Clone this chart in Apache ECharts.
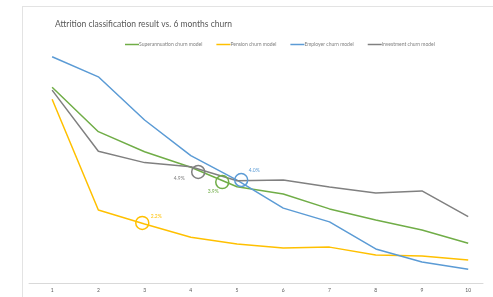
<!DOCTYPE html>
<html>
<head>
<meta charset="utf-8">
<script src="https://cdn.jsdelivr.net/npm/echarts@6/dist/echarts.min.js"></script>
<style>
  html, body { margin: 0; padding: 0; background: #fff; }
  #frame { position: absolute; left: 22px; top: 6px; width: 490px; height: 300px; border: 1px solid #e3e3e3; }
  #main { position: absolute; left: 0; top: 0; width: 493px; height: 297px; }
</style>
</head>
<body>
<div id="frame"></div>
<div id="main"></div>
<script>
// months after classification
var categories = [1, 2, 3, 4, 5, 6, 7, 8, 9, 10];

// churn rate (%)
var superannuation = [7.53, 5.82, 5.05, 4.45, 3.70, 3.42, 2.85, 2.42, 2.04, 1.53];
var pension        = [7.07, 2.81, 2.27, 1.76, 1.50, 1.35, 1.38, 1.08, 1.04, 0.88];
var employer       = [8.70, 7.93, 6.27, 4.90, 3.96, 2.88, 2.35, 1.31, 0.81, 0.53];
var investment     = [7.42, 5.07, 4.63, 4.47, 3.93, 3.96, 3.69, 3.46, 3.54, 2.55];

// highlighted points: [x, y, label]
var superNote  = [4.68, 3.88, '3.9%'];
var pensionNote = [2.95, 2.31, '2.2%'];
var employerNote = [5.09, 3.96, '4.0%'];
var investNote = [4.16, 4.27, '4.9%'];

function pairs(vals) {
  return vals.map(function (v, i) { return [categories[i], v]; });
}

function note(n, color, offset) {
  return {
    symbol: 'circle',
    symbolSize: 13,
    silent: true,
    itemStyle: { color: 'rgba(0,0,0,0)', borderColor: color, borderWidth: 1.5 },
    label: {
      show: true, formatter: n[2], color: color, fontSize: 5,
      fontFamily: 'Lato', position: 'inside', offset: offset
    },
    data: [{ coord: [n[0], n[1]] }]
  };
}

var chart = echarts.init(document.getElementById('main'));
var option = {
  animation: false,
  textStyle: { fontFamily: 'Lato' },
  title: {
    text: 'Attrition classification result vs. 6 months churn',
    left: 50, top: 15,
    textStyle: { fontSize: 8.5, fontWeight: 'normal', color: '#595959', fontFamily: 'Lato' }
  },
  legend: {
    top: 37, left: 120,
    icon: 'rect', itemWidth: 14, itemHeight: 1.5, itemGap: 14,
    textStyle: { fontSize: 5, color: '#7f7f7f', padding: [0, 0, 0, -5] },
    data: ['Superannuation churn model', 'Pension churn model', 'Employer churn model', 'Investment churn model']
  },
  grid: { left: 29, right: 10, top: 49, bottom: 14 },
  xAxis: {
    type: 'value', min: 0.5, max: 10.32,
    axisLine: { show: true, lineStyle: { color: '#d9d9d9', width: 1 } },
    axisTick: { show: false },
    splitLine: { show: false },
    axisLabel: { customValues: categories, fontSize: 5, color: '#595959', margin: 5 }
  },
  yAxis: {
    type: 'value', min: 0, max: 9, show: false, splitLine: { show: false }
  },
  series: [
    { name: 'Superannuation churn model', type: 'line', data: pairs(superannuation),
      symbol: 'none', color: '#70AD47', lineStyle: { width: 1.5 },
      markPoint: note(superNote, '#70AD47', [-9, 9]) },
    { name: 'Pension churn model', type: 'line', data: pairs(pension),
      symbol: 'none', color: '#FFC000', lineStyle: { width: 1.5 },
      markPoint: note(pensionNote, '#FFC000', [14, -7]) },
    { name: 'Employer churn model', type: 'line', data: pairs(employer),
      symbol: 'none', color: '#5B9BD5', lineStyle: { width: 1.5 },
      markPoint: note(employerNote, '#5B9BD5', [13, -10]) },
    { name: 'Investment churn model', type: 'line', data: pairs(investment),
      symbol: 'none', color: '#808080', lineStyle: { width: 1.5 },
      markPoint: note(investNote, '#808080', [-19, 6]) }
  ]
};
chart.setOption(option);
</script>
</body>
</html>
